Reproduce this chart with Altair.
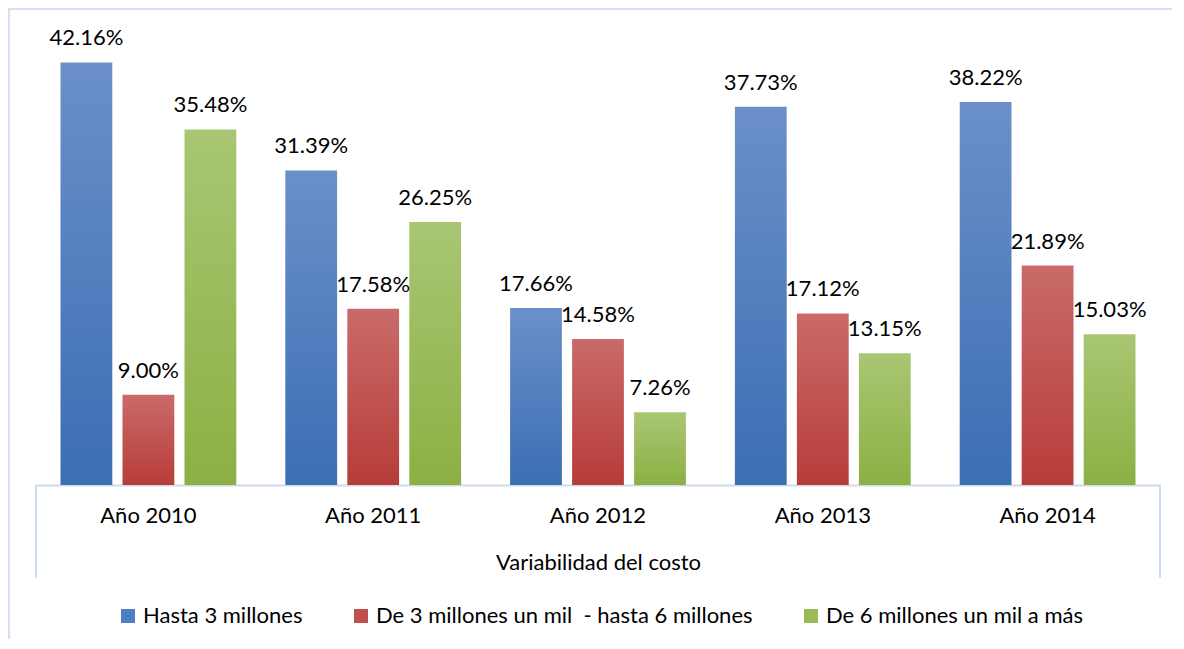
import altair as alt
import pandas as pd

years = ["Año 2010", "Año 2011", "Año 2012", "Año 2013", "Año 2014"]
series_names = [
    "Hasta 3 millones",
    "De 3 millones un mil\u00a0 - hasta 6 millones",
    "De 6 millones un mil a más",
]
hasta3 = [42.16, 31.39, 17.66, 37.73, 38.22]
de3a6 = [9.00, 17.58, 14.58, 17.12, 21.89]
de6 = [35.48, 26.25, 7.26, 13.15, 15.03]

rows = []
for name, vals in zip(series_names, [hasta3, de3a6, de6]):
    for y, v in zip(years, vals):
        rows.append({"year": y, "series": name, "value": v, "label": f"{v:.2f}%"})
df = pd.DataFrame(rows)

FONT = "Lato"
FS = 22
W, H = 1124, 451
PAD = {"left": 28, "top": 26, "right": 12, "bottom": 154}

grad_stops = [
    ("#6b90c9", "#3b6eb3"),
    ("#c96b69", "#b73c39"),
    ("#a9c673", "#8cb043"),
]
solid = ["#4f7fc0", "#c0504d", "#9bbb59"]

x_enc = alt.X(
    "year:N",
    sort=years,
    scale=alt.Scale(paddingInner=0.218, paddingOuter=0.109),
    axis=alt.Axis(
        title="Variabilidad del costo",
        labelAngle=0,
        ticks=False,
        domainColor="#cddbef",
        domainWidth=2,
        labelFont=FONT,
        labelFontSize=FS,
        labelColor="#000000",
        labelPadding=20,
        titleFont=FONT,
        titleFontSize=FS,
        titleFontWeight="normal",
        titleColor="#000000",
        titlePadding=26,
    ),
)
xo_enc = alt.XOffset("series:N", sort=series_names, scale=alt.Scale(paddingInner=0.1645, paddingOuter=0))
y_enc = alt.Y("value:Q", scale=alt.Scale(domain=[0, 45]), axis=None)

base = alt.Chart(df)
layers = []
for name, (top, bot) in zip(series_names, grad_stops):
    layers.append(
        base.transform_filter(alt.datum.series == name)
        .mark_bar(
            fill=alt.Gradient(
                gradient="linear",
                stops=[alt.GradientStop(color=top, offset=0), alt.GradientStop(color=bot, offset=1)],
                x1=0, x2=0, y1=0, y2=1,
            )
        )
        .encode(x=x_enc, xOffset=xo_enc, y=y_enc)
    )

labels = base.mark_text(font=FONT, fontSize=FS, color="#000000", baseline="middle", dy=-24).encode(
    x=x_enc, xOffset=xo_enc, y=y_enc, text="label:N"
)

legend_layer = base.mark_square(size=0, opacity=0).encode(
    x=x_enc,
    xOffset=xo_enc,
    y=y_enc,
    color=alt.Color(
        "series:N",
        sort=series_names,
        scale=alt.Scale(domain=series_names, range=solid),
        legend=alt.Legend(
            title=None,
            orient="none",
            legendX=81,
            legendY=571,
            direction="horizontal",
            symbolType="square",
            symbolSize=196,
            symbolOpacity=1,
            symbolStrokeWidth=0,
            labelFont=FONT,
            labelFontSize=FS,
            labelColor="#000000",
            labelOffset=4,
            columnPadding=47,
            labelLimit=600,
        ),
    ),
)

one = alt.Data(values=[{"a": 1}])
box_left = alt.Chart(one).mark_rule(color="#cddbef", strokeWidth=2).encode(
    x=alt.value(0), y=alt.value(H), y2=alt.value(H + 93)
)
box_right = alt.Chart(one).mark_rule(color="#cddbef", strokeWidth=2).encode(
    x=alt.value(W), y=alt.value(H), y2=alt.value(H + 93)
)
frame_top = alt.Chart(one).mark_rule(color="#d5e0f0", strokeWidth=2).encode(
    x=alt.value(-28), x2=alt.value(W + 12), y=alt.value(-25)
)
frame_left = alt.Chart(one).mark_rule(color="#d5e0f0", strokeWidth=2).encode(
    x=alt.value(-27), y=alt.value(-26), y2=alt.value(H + 154)
)

chart = (
    alt.layer(*layers, labels, legend_layer, box_left, box_right, frame_top, frame_left)
    .properties(width=W, height=H, autosize=alt.AutoSizeParams(type="none"), padding=PAD,
                background="white")
    .configure_view(strokeWidth=0, stroke="transparent")
)

chart.save("out.html", embed_options={"renderer": "svg", "actions": False})
